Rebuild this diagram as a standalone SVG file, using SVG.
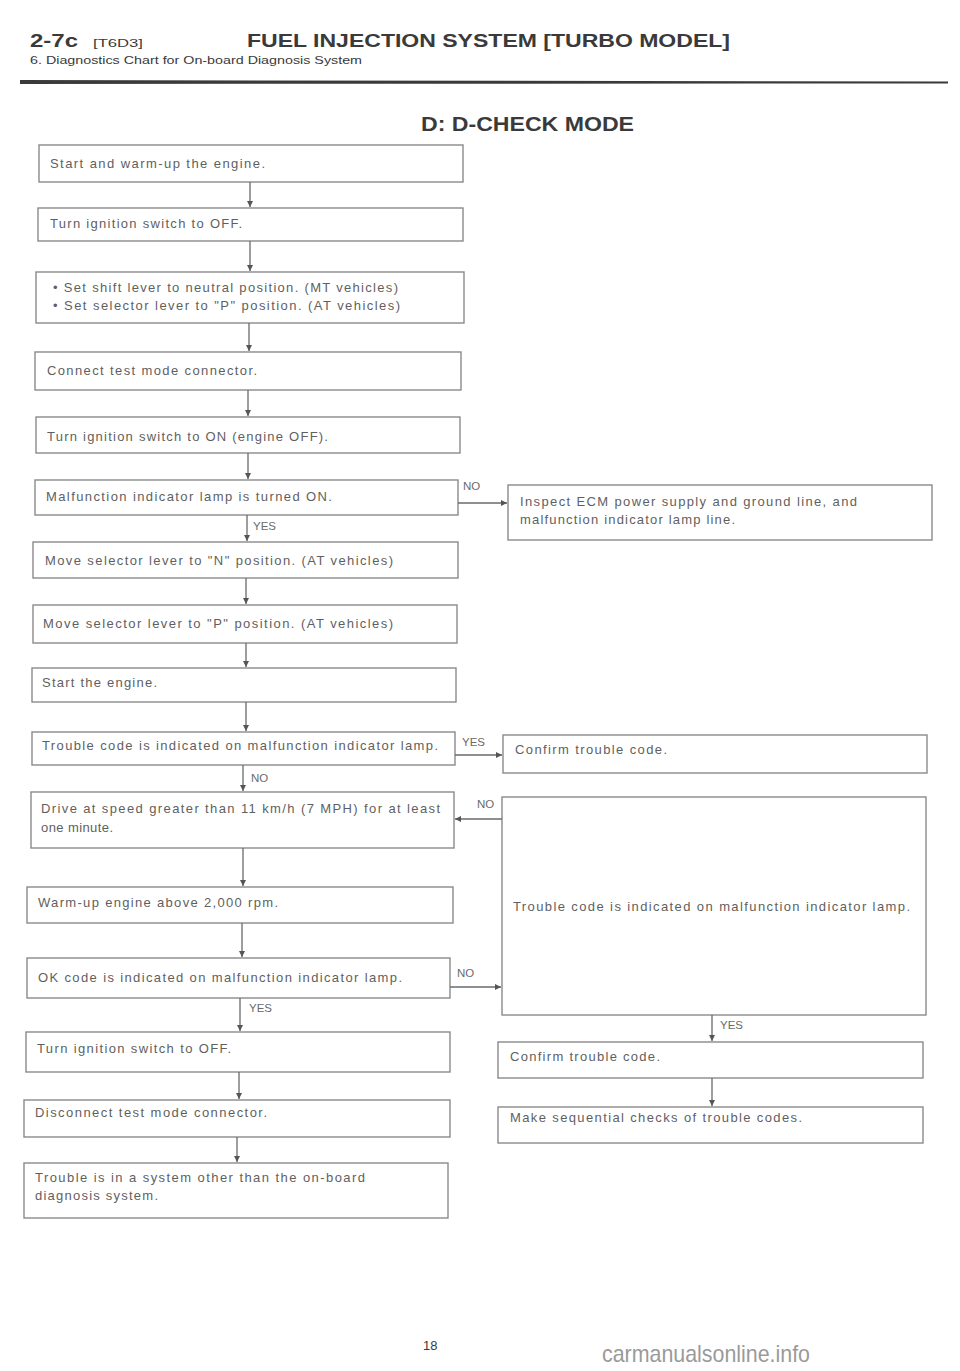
<svg xmlns="http://www.w3.org/2000/svg" width="960" height="1371" viewBox="0 0 960 1371">
<style>
.bx{fill:#fff;stroke:#8a8a8a;stroke-width:1.4}
.t{font-family:"Liberation Sans",Arial,sans-serif;font-size:13px;fill:#5f5f5f}
.lb{font-family:"Liberation Sans",Arial,sans-serif;font-size:11.5px;fill:#6a6a6a}
.c{stroke:#6a6a6a;stroke-width:1.3;fill:none}
.hd{font-family:"Liberation Sans",Arial,sans-serif;fill:#3a3a3a}
</style>
<defs>
<marker id="ah" markerUnits="userSpaceOnUse" markerWidth="7" markerHeight="7" refX="6" refY="3" orient="auto">
<path d="M0,0 L6,3 L0,6 z" fill="#555"/>
</marker>
</defs>
<rect width="960" height="1371" fill="#fff"/>
<g id="header">
<text class="hd" x="30" y="47" font-size="19" font-weight="bold" textLength="48" lengthAdjust="spacingAndGlyphs">2-7c</text>
<text class="hd" x="93" y="47" font-size="10" textLength="50" lengthAdjust="spacingAndGlyphs">[T6D3]</text>
<text class="hd" x="247" y="47" font-size="19" font-weight="bold" textLength="483" lengthAdjust="spacingAndGlyphs">FUEL INJECTION SYSTEM [TURBO MODEL]</text>
<text class="hd" x="30" y="64" font-size="11.5" textLength="332" lengthAdjust="spacingAndGlyphs">6. Diagnostics Chart for On-board Diagnosis System</text>
<path d="M20,80 L948,81.5 L948,83.5 L20,84 z" fill="#3a3a3a"/>
<text class="hd" x="421" y="131" font-size="20" font-weight="bold" textLength="213" lengthAdjust="spacingAndGlyphs">D: D-CHECK MODE</text>
</g>
<g id="n1"><rect class="bx" x="39" y="145" width="424" height="37"/><text class="t" x="50" y="168" textLength="215" lengthAdjust="spacing">Start and warm-up the engine.</text></g>
<g id="n2"><rect class="bx" x="38" y="208" width="425" height="33"/><text class="t" x="50" y="228" textLength="192" lengthAdjust="spacing">Turn ignition switch to OFF.</text></g>
<g id="n3"><rect class="bx" x="36" y="272" width="428" height="51"/><text class="t" x="53" y="292" textLength="345" lengthAdjust="spacing">• Set shift lever to neutral position. (MT vehicles)</text><text class="t" x="53" y="310" textLength="347" lengthAdjust="spacing">• Set selector lever to "P" position. (AT vehicles)</text></g>
<g id="n4"><rect class="bx" x="35" y="352" width="426" height="38"/><text class="t" x="47" y="375" textLength="210" lengthAdjust="spacing">Connect test mode connector.</text></g>
<g id="n5"><rect class="bx" x="36" y="417" width="424" height="36"/><text class="t" x="47" y="441" textLength="281" lengthAdjust="spacing">Turn ignition switch to ON (engine OFF).</text></g>
<g id="n6"><rect class="bx" x="35" y="480" width="423" height="35"/><text class="t" x="46" y="501" textLength="286" lengthAdjust="spacing">Malfunction indicator lamp is turned ON.</text></g>
<g id="n7"><rect class="bx" x="33" y="542" width="425" height="36"/><text class="t" x="45" y="565" textLength="348" lengthAdjust="spacing">Move selector lever to "N" position. (AT vehicles)</text></g>
<g id="n8"><rect class="bx" x="33" y="605" width="424" height="38"/><text class="t" x="43" y="628" textLength="350" lengthAdjust="spacing">Move selector lever to "P" position. (AT vehicles)</text></g>
<g id="n9"><rect class="bx" x="32" y="668" width="424" height="34"/><text class="t" x="42" y="687" textLength="115" lengthAdjust="spacing">Start the engine.</text></g>
<g id="n10"><rect class="bx" x="32" y="732" width="423" height="33"/><text class="t" x="42" y="750" textLength="396" lengthAdjust="spacing">Trouble code is indicated on malfunction indicator lamp.</text></g>
<g id="n11"><rect class="bx" x="31" y="792" width="423" height="56"/><text class="t" x="41" y="813" textLength="399" lengthAdjust="spacing">Drive at speed greater than 11 km/h (7 MPH) for at least</text><text class="t" x="41" y="832" textLength="72" lengthAdjust="spacing">one minute.</text></g>
<g id="n12"><rect class="bx" x="27" y="887" width="426" height="36"/><text class="t" x="38" y="907" textLength="240" lengthAdjust="spacing">Warm-up engine above 2,000 rpm.</text></g>
<g id="n13"><rect class="bx" x="27" y="958" width="423" height="40"/><text class="t" x="38" y="982" textLength="364" lengthAdjust="spacing">OK code is indicated on malfunction indicator lamp.</text></g>
<g id="n14"><rect class="bx" x="26" y="1032" width="424" height="40"/><text class="t" x="37" y="1053" textLength="194" lengthAdjust="spacing">Turn ignition switch to OFF.</text></g>
<g id="n15"><rect class="bx" x="24" y="1100" width="426" height="37"/><text class="t" x="35" y="1117" textLength="232" lengthAdjust="spacing">Disconnect test mode connector.</text></g>
<g id="n16"><rect class="bx" x="24" y="1163" width="424" height="55"/><text class="t" x="35" y="1182" textLength="330" lengthAdjust="spacing">Trouble is in a system other than the on-board</text><text class="t" x="35" y="1200" textLength="123" lengthAdjust="spacing">diagnosis system.</text></g>
<g id="r1"><rect class="bx" x="508" y="485" width="424" height="55"/><text class="t" x="520" y="506" textLength="337" lengthAdjust="spacing">Inspect ECM power supply and ground line, and</text><text class="t" x="520" y="524" textLength="215" lengthAdjust="spacing">malfunction indicator lamp line.</text></g>
<g id="r2"><rect class="bx" x="503" y="735" width="424" height="38"/><text class="t" x="515" y="754" textLength="152" lengthAdjust="spacing">Confirm trouble code.</text></g>
<g id="r3"><rect class="bx" x="502" y="797" width="424" height="218"/><text class="t" x="513" y="911" textLength="397" lengthAdjust="spacing">Trouble code is indicated on malfunction indicator lamp.</text></g>
<g id="r4"><rect class="bx" x="498" y="1042" width="425" height="36"/><text class="t" x="510" y="1061" textLength="150" lengthAdjust="spacing">Confirm trouble code.</text></g>
<g id="r5"><rect class="bx" x="498" y="1107" width="425" height="36"/><text class="t" x="510" y="1122" textLength="292" lengthAdjust="spacing">Make sequential checks of trouble codes.</text></g>
<g id="connectors">
<line class="c" x1="250" y1="182" x2="250" y2="207" marker-end="url(#ah)"/>
<line class="c" x1="250" y1="241" x2="250" y2="271" marker-end="url(#ah)"/>
<line class="c" x1="249" y1="323" x2="249" y2="351" marker-end="url(#ah)"/>
<line class="c" x1="248" y1="390" x2="248" y2="416" marker-end="url(#ah)"/>
<line class="c" x1="248" y1="453" x2="248" y2="479" marker-end="url(#ah)"/>
<line class="c" x1="247" y1="515" x2="247" y2="541" marker-end="url(#ah)"/>
<line class="c" x1="246" y1="578" x2="246" y2="604" marker-end="url(#ah)"/>
<line class="c" x1="246" y1="643" x2="246" y2="667" marker-end="url(#ah)"/>
<line class="c" x1="246" y1="702" x2="246" y2="731" marker-end="url(#ah)"/>
<line class="c" x1="243" y1="765" x2="243" y2="791" marker-end="url(#ah)"/>
<line class="c" x1="243" y1="848" x2="243" y2="886" marker-end="url(#ah)"/>
<line class="c" x1="242" y1="923" x2="242" y2="957" marker-end="url(#ah)"/>
<line class="c" x1="240" y1="998" x2="240" y2="1031" marker-end="url(#ah)"/>
<line class="c" x1="239" y1="1072" x2="239" y2="1099" marker-end="url(#ah)"/>
<line class="c" x1="237" y1="1137" x2="237" y2="1162" marker-end="url(#ah)"/>
<line class="c" x1="712" y1="1015" x2="712" y2="1041" marker-end="url(#ah)"/>
<line class="c" x1="712" y1="1078" x2="712" y2="1106" marker-end="url(#ah)"/>
<line class="c" x1="458" y1="503" x2="507" y2="503" marker-end="url(#ah)"/>
<line class="c" x1="455" y1="755" x2="502" y2="755" marker-end="url(#ah)"/>
<line class="c" x1="502" y1="819" x2="455" y2="819" marker-end="url(#ah)"/>
<line class="c" x1="450" y1="987" x2="501" y2="987" marker-end="url(#ah)"/>
<text class="lb" x="463" y="490">NO</text>
<text class="lb" x="253" y="530">YES</text>
<text class="lb" x="462" y="746">YES</text>
<text class="lb" x="251" y="782">NO</text>
<text class="lb" x="477" y="808">NO</text>
<text class="lb" x="457" y="977">NO</text>
<text class="lb" x="249" y="1012">YES</text>
<text class="lb" x="720" y="1029">YES</text>
</g>
<text class="hd" x="423" y="1350" font-size="13" fill="#555">18</text>
<text x="602" y="1362" font-family="Liberation Sans,Arial,sans-serif" font-size="24" fill="#9a9a9a" textLength="208" lengthAdjust="spacingAndGlyphs">carmanualsonline.info</text>
</svg>
